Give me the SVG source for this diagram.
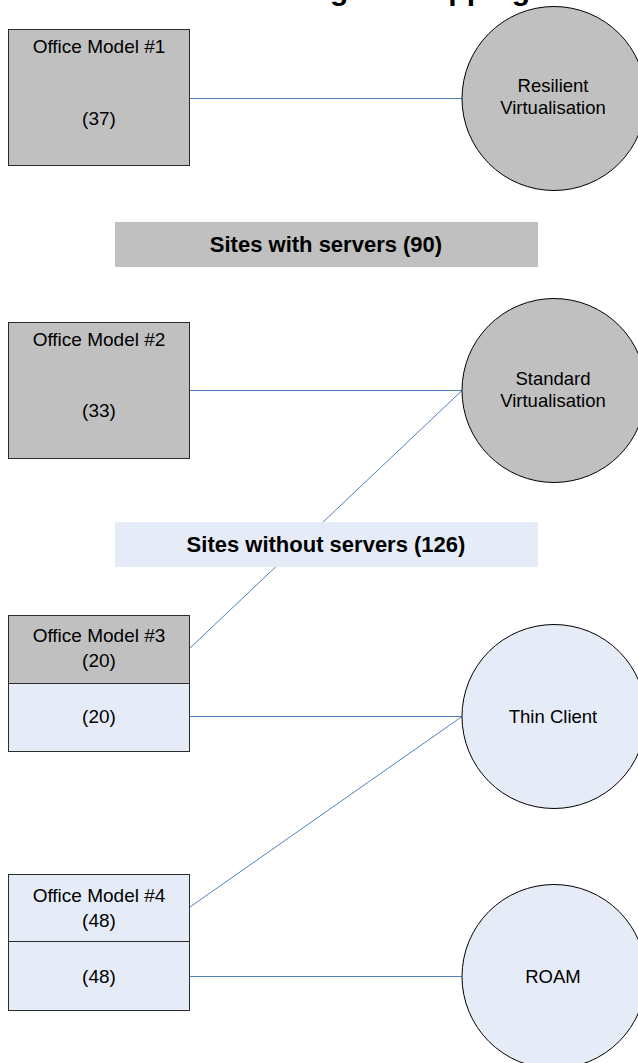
<svg xmlns="http://www.w3.org/2000/svg" width="638" height="1063" viewBox="0 0 638 1063">
  <style>
    .box { stroke: #2b2b2b; stroke-width: 1; }
    .grey { fill: #c0c0c0; }
    .pale { fill: #e6ecf7; }
    .node { stroke: #000; stroke-width: 1; }
    .lbl { font-family: "Liberation Sans", Arial, sans-serif; font-size: 18.5px; fill: #000; text-anchor: middle; }
    .blbl { font-size: 19px; }
    .band { font-family: "Liberation Sans", Arial, sans-serif; font-size: 22px; font-weight: bold; fill: #000; text-anchor: middle; }
    .title { font-family: "Liberation Sans", Arial, sans-serif; font-size: 30px; font-weight: bold; fill: #000; }
    .link { stroke: #4f81bd; stroke-width: 1; fill: none; }
  </style>

  <rect width="638" height="1063" fill="#fff"/>

  <!-- page heading, mostly above the top edge -->
  <text class="title" x="105" y="-0.5">Office Model Logical Mapping</text>

  <!-- connectors -->
  <g id="connectors">
    <line class="link" x1="190" y1="98.5" x2="462" y2="98.5"/>
    <line class="link" x1="190" y1="390.5" x2="462" y2="390.5"/>
    <line class="link" x1="190" y1="648" x2="462" y2="390.5"/>
    <line class="link" x1="190" y1="716.5" x2="462" y2="716.5"/>
    <line class="link" x1="190" y1="907" x2="462" y2="716.5"/>
    <line class="link" x1="190" y1="976.5" x2="462" y2="976.5"/>
  </g>

  <!-- section bands -->
  <g id="band-servers">
    <rect class="grey" x="115" y="222" width="423" height="45"/>
    <text class="band" x="326" y="252">Sites with servers (90)</text>
  </g>
  <g id="band-no-servers">
    <rect class="pale" x="115" y="522" width="423" height="45"/>
    <text class="band" x="326" y="552">Sites without servers (126)</text>
  </g>

  <!-- office models -->
  <g id="office-model-1">
    <rect class="box grey" x="8.5" y="29.5" width="181" height="136"/>
    <text class="lbl blbl" x="99" y="53">Office Model #1</text>
    <text class="lbl blbl" x="99" y="125">(37)</text>
  </g>
  <g id="office-model-2">
    <rect class="box grey" x="8.5" y="322.5" width="181" height="136"/>
    <text class="lbl blbl" x="99" y="346">Office Model #2</text>
    <text class="lbl blbl" x="99" y="417">(33)</text>
  </g>
  <g id="office-model-3">
    <rect class="box grey" x="8.5" y="615.5" width="181" height="68"/>
    <rect class="box pale" x="8.5" y="683.5" width="181" height="68"/>
    <text class="lbl blbl" x="99" y="642">Office Model #3</text>
    <text class="lbl blbl" x="99" y="667">(20)</text>
    <text class="lbl blbl" x="99" y="723">(20)</text>
  </g>
  <g id="office-model-4">
    <rect class="box pale" x="8.5" y="874.5" width="181" height="67"/>
    <rect class="box pale" x="8.5" y="941.5" width="181" height="69"/>
    <text class="lbl blbl" x="99" y="902">Office Model #4</text>
    <text class="lbl blbl" x="99" y="927">(48)</text>
    <text class="lbl blbl" x="99" y="983">(48)</text>
  </g>

  <!-- delivery options -->
  <g id="resilient-virtualisation">
    <circle class="node grey" cx="554" cy="98.5" r="92"/>
    <text class="lbl" x="553" y="92">Resilient</text>
    <text class="lbl" x="553" y="114">Virtualisation</text>
  </g>
  <g id="standard-virtualisation">
    <circle class="node grey" cx="554" cy="390.5" r="92"/>
    <text class="lbl" x="553" y="385">Standard</text>
    <text class="lbl" x="553" y="407">Virtualisation</text>
  </g>
  <g id="thin-client">
    <circle class="node pale" cx="554" cy="716.5" r="92"/>
    <text class="lbl" x="553" y="723">Thin Client</text>
  </g>
  <g id="roam">
    <circle class="node pale" cx="554" cy="976.5" r="92"/>
    <text class="lbl" x="553" y="983">ROAM</text>
  </g>
</svg>
